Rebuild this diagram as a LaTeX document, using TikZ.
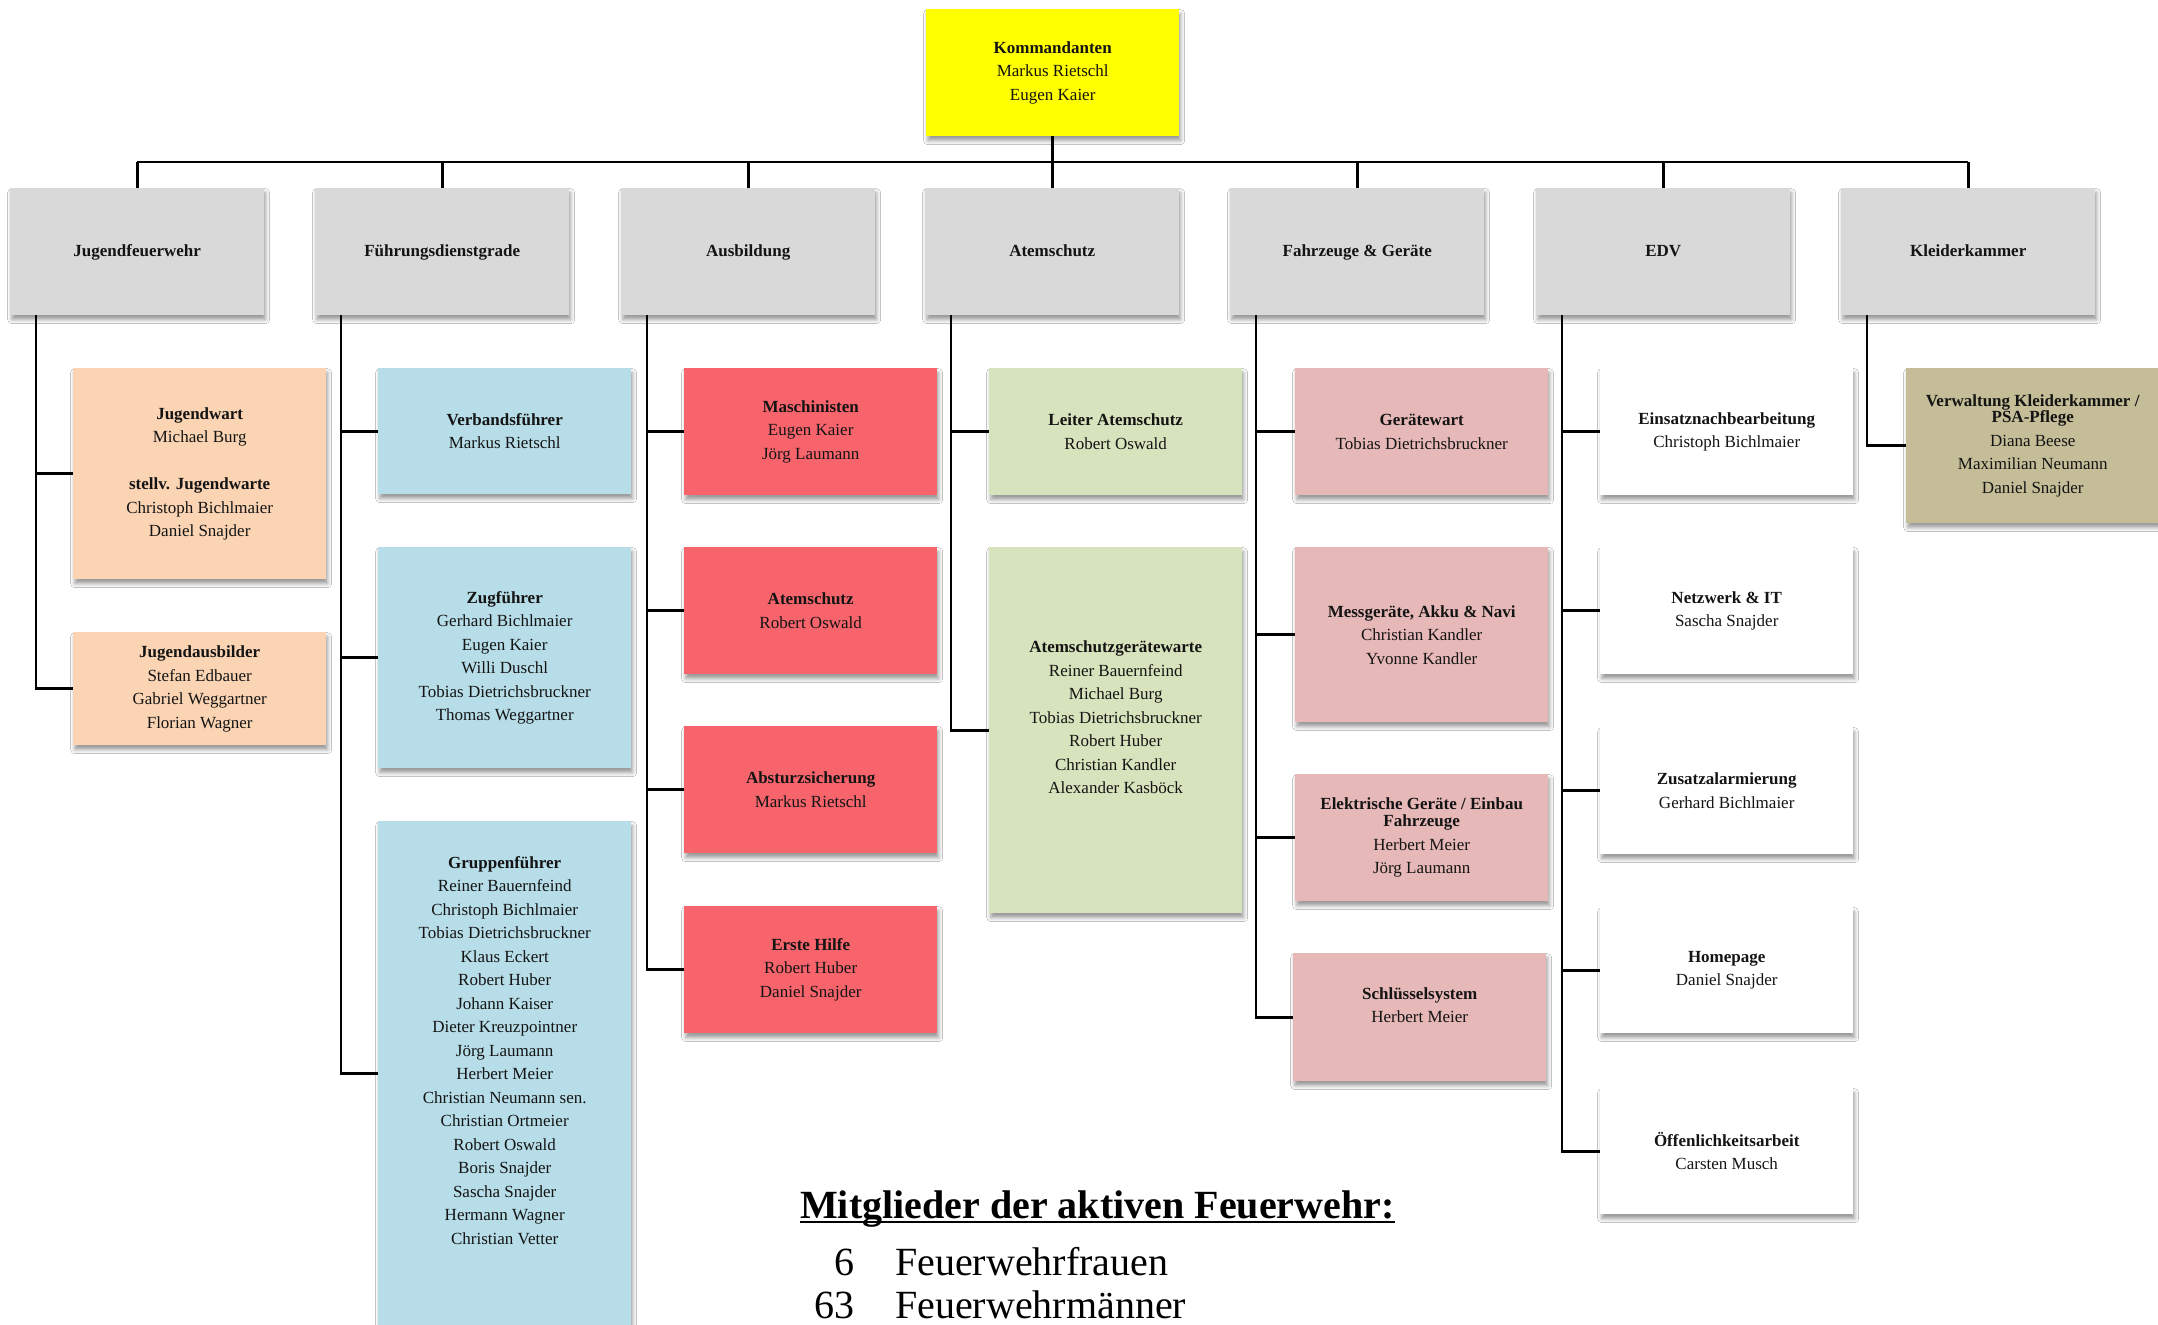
\documentclass[tikz,border=0pt]{standalone}
\usepackage{fontspec}
\setmainfont{Liberation Serif}
\usetikzlibrary{shadows.blur}
\definecolor{cyellow}{HTML}{FFFF00}
\definecolor{cgray}{HTML}{D9D9D9}
\definecolor{cpeach}{HTML}{FBD4B4}
\definecolor{cblue}{HTML}{B7DDE8}
\definecolor{cred}{HTML}{F7646C}
\definecolor{cgreen}{HTML}{D7E3BC}
\definecolor{cpink}{HTML}{E6B8B7}
\definecolor{ckhaki}{HTML}{C4BD97}
\definecolor{ctext}{HTML}{141414}
\begin{document}
\begin{tikzpicture}[x=1pt,y=-1pt,
  box/.style={rectangle, anchor=north west, minimum width=253pt, minimum height=127pt,
    inner sep=2pt, align=center, text=ctext, font=\fontsize{17}{23.5}\selectfont,
    blur shadow={shadow xshift=1.5pt, shadow yshift=-4.5pt, shadow blur radius=4pt, shadow opacity=40}},
  topbox/.style={box, fill=cgray, minimum width=254pt},
  peach/.style={box, fill=cpeach},
  blue/.style={box, fill=cblue},
  red/.style={box, fill=cred},
  green/.style={box, fill=cgreen},
  pink/.style={box, fill=cpink},
  white/.style={box, fill=white},
  khaki/.style={box, fill=ckhaki},
  txt/.style={align=center, text=ctext, inner sep=0pt, font=\fontsize{17}{23.5}\selectfont},
  conn/.style={line width=2.8pt, black},
  big/.style={inner sep=0pt, text=black, font=\fontsize{40}{48}\selectfont}
]
\fill[white] (0,0) rectangle (2158,1325);
\useasboundingbox (0,0) rectangle (2158,1325);

% top
\node[box, fill=cyellow] (kom) at (926,9) {\textbf{Kommandanten}\\Markus Rietschl\\Eugen Kaier};

\node[topbox] (jf)  at (10,188)   {\strut\textbf{Jugendfeuerwehr}};
\node[topbox] (fd)  at (315,188)  {\strut\textbf{Führungsdienstgrade}};
\node[topbox] (ab)  at (621,188)  {\strut\textbf{Ausbildung}};
\node[topbox] (as)  at (925,188)  {\strut\textbf{Atemschutz}};
\node[topbox] (fg)  at (1230,188) {\strut\textbf{Fahrzeuge \& Geräte}};
\node[topbox] (edv) at (1536,188) {\strut\textbf{EDV}};
\node[topbox] (kk)  at (1841,188) {\strut\textbf{Kleiderkammer}};

% column 1
\node[peach, minimum height=211pt] (jw) at (73,368)
  {\textbf{Jugendwart}\\Michael Burg\\[23.5pt]\textbf{stellv. Jugendwarte}\\Christoph Bichlmaier\\Daniel Snajder};
\node[peach, minimum height=113pt] (ja) at (73,632)
  {\textbf{Jugendausbilder}\\Stefan Edbauer\\Gabriel Weggartner\\Florian Wagner};

% column 2
\node[blue, minimum height=126pt] (vf) at (378,368) {\textbf{Verbandsführer}\\Markus Rietschl};
\node[blue, minimum height=221pt] (zf) at (378,547)
  {\textbf{Zugführer}\\Gerhard Bichlmaier\\Eugen Kaier\\Willi Duschl\\Tobias Dietrichsbruckner\\Thomas Weggartner};
\node[blue, minimum height=504pt] (gf) at (378,821) {};
\node[txt, yshift=23pt] (gft) at (gf.center)
  {\textbf{Gruppenführer}\\Reiner Bauernfeind\\Christoph Bichlmaier\\Tobias Dietrichsbruckner\\Klaus Eckert\\Robert Huber\\Johann Kaiser\\Dieter Kreuzpointner\\Jörg Laumann\\Herbert Meier\\Christian Neumann sen.\\Christian Ortmeier\\Robert Oswald\\Boris Snajder\\Sascha Snajder\\Hermann Wagner\\Christian Vetter};

% column 3
\node[red] (ma)  at (684,368) {\textbf{Maschinisten}\\Eugen Kaier\\Jörg Laumann};
\node[red] (at)  at (684,547) {\textbf{Atemschutz}\\Robert Oswald};
\node[red] (asi) at (684,726) {\textbf{Absturzsicherung}\\Markus Rietschl};
\node[red] (eh)  at (684,906) {\textbf{Erste Hilfe}\\Robert Huber\\Daniel Snajder};

% column 4
\node[green] (la) at (989,368) {\textbf{Leiter Atemschutz}\\Robert Oswald};
\node[green, minimum height=366pt] (agw) at (989,547) {};
\node[txt, yshift=13pt] (agwt) at (agw.center)
  {\textbf{Atemschutzgerätewarte}\\Reiner Bauernfeind\\Michael Burg\\Tobias Dietrichsbruckner\\Robert Huber\\Christian Kandler\\Alexander Kasböck};

% column 5
\node[pink] (gw) at (1295,368) {\textbf{Gerätewart}\\Tobias Dietrichsbruckner};
\node[pink, minimum height=175pt] (mg) at (1295,547) {\textbf{Messgeräte, Akku \& Navi}\\Christian Kandler\\Yvonne Kandler};
\node[pink] (el) at (1295,774) {\textbf{Elektrische Geräte / Einbau}\\[-6.5pt]\textbf{Fahrzeuge}\\Herbert Meier\\Jörg Laumann};
\node[pink, minimum height=128pt] (sl) at (1293,953) {};
\node[txt, yshift=12pt] (slt) at (sl.center) {\textbf{Schlüsselsystem}\\Herbert Meier};

% column 6
\node[white] (en) at (1600,368)  {\textbf{Einsatznachbearbeitung}\\Christoph Bichlmaier};
\node[white] (nw) at (1600,547)  {\textbf{Netzwerk \& IT}\\Sascha Snajder};
\node[white] (za) at (1600,727)  {\textbf{Zusatzalarmierung}\\Gerhard Bichlmaier};
\node[white, minimum height=126pt] (hp) at (1600,907)  {\textbf{Homepage}\\Daniel Snajder};
\node[white, minimum height=126pt] (oe) at (1600,1088) {\textbf{Öffenlichkeitsarbeit}\\Carsten Musch};

% column 7
\node[khaki, minimum height=155pt] (vk) at (1906,368)
  {\textbf{Verwaltung Kleiderkammer /}\\[-7pt]\textbf{PSA-Pflege}\\Diana Beese\\Maximilian Neumann\\Daniel Snajder};

% connectors: top bus
\coordinate (busL) at (137,162);
\coordinate (busR) at (1968,162);
\draw[conn] (busL) -- (busR);
\draw[conn] (kom.south) -- (kom.south |- busL);
\foreach \c in {jf,fd,ab,as,fg,edv,kk}
  \draw[conn] (\c.north) -- (\c.north |- busL);

% connectors: trunks
\foreach \p/\cs in {jf/{jw,ja}, fd/{vf,zf,gf}, ab/{ma,at,asi,eh}, as/{la,agw},
                    fg/{gw,mg,el,sl}, edv/{en,nw,za,hp,oe}, kk/{vk}}
  \foreach \c in \cs
    \draw[conn] ([xshift=26pt]\p.south west) |- (\c.west);

% bottom text
\node[big, font=\fontsize{40}{48}\selectfont\bfseries, anchor=base west] (mt) at (800,1218) {Mitglieder der aktiven Feuerwehr:};
\draw[line width=2.6pt] ([yshift=-4pt]mt.base west) -- ([yshift=-4pt]mt.base east);
\node[big, anchor=base east] (n1) at (855,1275) {6};
\node[big, anchor=base west] (t1) at (895,1275) {Feuerwehrfrauen};
\node[big, anchor=base east] (n2) at (855,1318) {63};
\node[big, anchor=base west] (t2) at (895,1318) {Feuerwehrmänner};
\end{tikzpicture}
\end{document}
